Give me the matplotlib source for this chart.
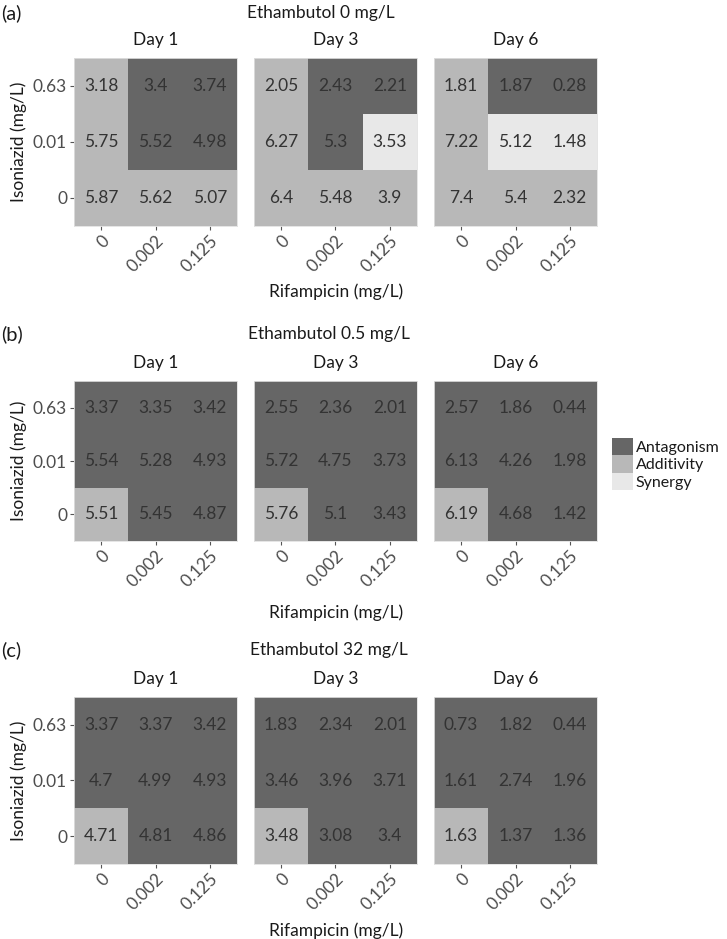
import numpy as np
import matplotlib.pyplot as plt
from matplotlib.colors import ListedColormap
from matplotlib.patches import Patch

plt.rcParams['font.family'] = ['Lato', 'DejaVu Sans']

days = ["Day 1", "Day 3", "Day 6"]
rif_labels = ["0", "0.002", "0.125"]
inh_labels = ["0.63", "0.01", "0"]  # top to bottom
classes = ["Antagonism", "Additivity", "Synergy"]
class_colors = ["#666666", "#b8b8b8", "#e8e8e8"]
panel_tags = ["(a)", "(b)", "(c)"]
emb_titles = ["Ethambutol 0 mg/L", "Ethambutol 0.5 mg/L", "Ethambutol 32 mg/L"]

# rows: isoniazid 0.63, 0.01, 0 ; cols: rifampicin 0, 0.002, 0.125
emb0_vals = [
    [[3.18, 3.4, 3.74], [5.75, 5.52, 4.98], [5.87, 5.62, 5.07]],
    [[2.05, 2.43, 2.21], [6.27, 5.3, 3.53], [6.4, 5.48, 3.9]],
    [[1.81, 1.87, 0.28], [7.22, 5.12, 1.48], [7.4, 5.4, 2.32]],
]
emb05_vals = [
    [[3.37, 3.35, 3.42], [5.54, 5.28, 4.93], [5.51, 5.45, 4.87]],
    [[2.55, 2.36, 2.01], [5.72, 4.75, 3.73], [5.76, 5.1, 3.43]],
    [[2.57, 1.86, 0.44], [6.13, 4.26, 1.98], [6.19, 4.68, 1.42]],
]
emb32_vals = [
    [[3.37, 3.37, 3.42], [4.7, 4.99, 4.93], [4.71, 4.81, 4.86]],
    [[1.83, 2.34, 2.01], [3.46, 3.96, 3.71], [3.48, 3.08, 3.4]],
    [[0.73, 1.82, 0.44], [1.61, 2.74, 1.96], [1.63, 1.37, 1.36]],
]

# 0 = Antagonism, 1 = Additivity, 2 = Synergy
emb0_cls = [
    [[1, 0, 0], [1, 0, 0], [1, 1, 1]],
    [[1, 0, 0], [1, 0, 2], [1, 1, 1]],
    [[1, 0, 0], [1, 2, 2], [1, 1, 1]],
]
emb05_cls = [
    [[0, 0, 0], [0, 0, 0], [1, 0, 0]],
    [[0, 0, 0], [0, 0, 0], [1, 0, 0]],
    [[0, 0, 0], [0, 0, 0], [1, 0, 0]],
]
emb32_cls = [
    [[0, 0, 0], [0, 0, 0], [1, 0, 0]],
    [[0, 0, 0], [0, 0, 0], [1, 0, 0]],
    [[0, 0, 0], [0, 0, 0], [1, 0, 0]],
]

all_vals = [emb0_vals, emb05_vals, emb32_vals]
all_cls = [emb0_cls, emb05_cls, emb32_cls]

W, H = 727, 939
fig = plt.figure(figsize=(W / 100, H / 100), dpi=100)
cmap = ListedColormap(class_colors)

facet_left = [74, 254, 434]
facet_w = 163
# heatmap top / bottom in pixels for each panel
panel_top = [58, 381, 697]
panel_bot = [226, 541, 864]
title_y = [13, 334, 650]
title_x = [321, 329, 329]
xlab_y = [292, 613, 931]

def fx(x):
    return x / W

def fy(y):
    return 1 - y / H

for p in range(3):
    top, bot = panel_top[p], panel_bot[p]
    for d in range(3):
        ax = fig.add_axes([fx(facet_left[d]), fy(bot), facet_w / W, (bot - top) / H])
        codes = np.array(all_cls[p][d])
        vals = all_vals[p][d]
        ax.imshow(codes, cmap=cmap, vmin=-0.5, vmax=2.5, aspect='auto',
                  interpolation='nearest')
        for i in range(3):
            for j in range(3):
                ax.text(j, i, f"{vals[i][j]:g}", ha='center', va='center',
                        fontsize=12.5, color='#333333')
        ax.set_xticks(range(3))
        ax.set_xticklabels(rif_labels, rotation=45, ha='right',
                           rotation_mode='anchor')
        ax.set_yticks(range(3))
        ax.tick_params(axis='both', length=3, width=0.8, color='#555555',
                       labelsize=12.5, labelcolor='#4d4d4d', pad=2)
        if d == 0:
            ax.set_yticklabels(inh_labels)
            ax.set_ylabel("Isoniazid (mg/L)", fontsize=12.5, color='#1a1a1a',
                          labelpad=4)
        else:
            ax.set_yticklabels([])
            ax.tick_params(axis='y', length=0)
        for s in ax.spines.values():
            s.set_color('#e0e0e0')
            s.set_linewidth(0.6)
        fig.text(fx(facet_left[d] + facet_w / 2), fy(top - 18), days[d],
                 ha='center', va='center', fontsize=12.5, color='#1a1a1a')
    fig.text(fx(title_x[p]), fy(title_y[p]), emb_titles[p], ha='center',
             va='center', fontsize=12.5, color='#1a1a1a')
    fig.text(fx(1), fy(title_y[p]), panel_tags[p], ha='left', va='center',
             fontsize=14.5, color='#1a1a1a')
    fig.text(fx(336), fy(xlab_y[p]), "Rifampicin (mg/L)", ha='center',
             va='center', fontsize=12.5, color='#1a1a1a')

handles = [Patch(facecolor=c, edgecolor='none') for c in class_colors]
fig.legend(handles, classes, loc='upper left', bbox_to_anchor=(fx(612), fy(438)),
           frameon=False, fontsize=11.5, handlelength=1.3, handleheight=1.3,
           handletextpad=0.2, labelspacing=0.0, borderaxespad=0, borderpad=0,
           labelcolor='#1a1a1a')

fig.savefig("out.png", dpi=100)
